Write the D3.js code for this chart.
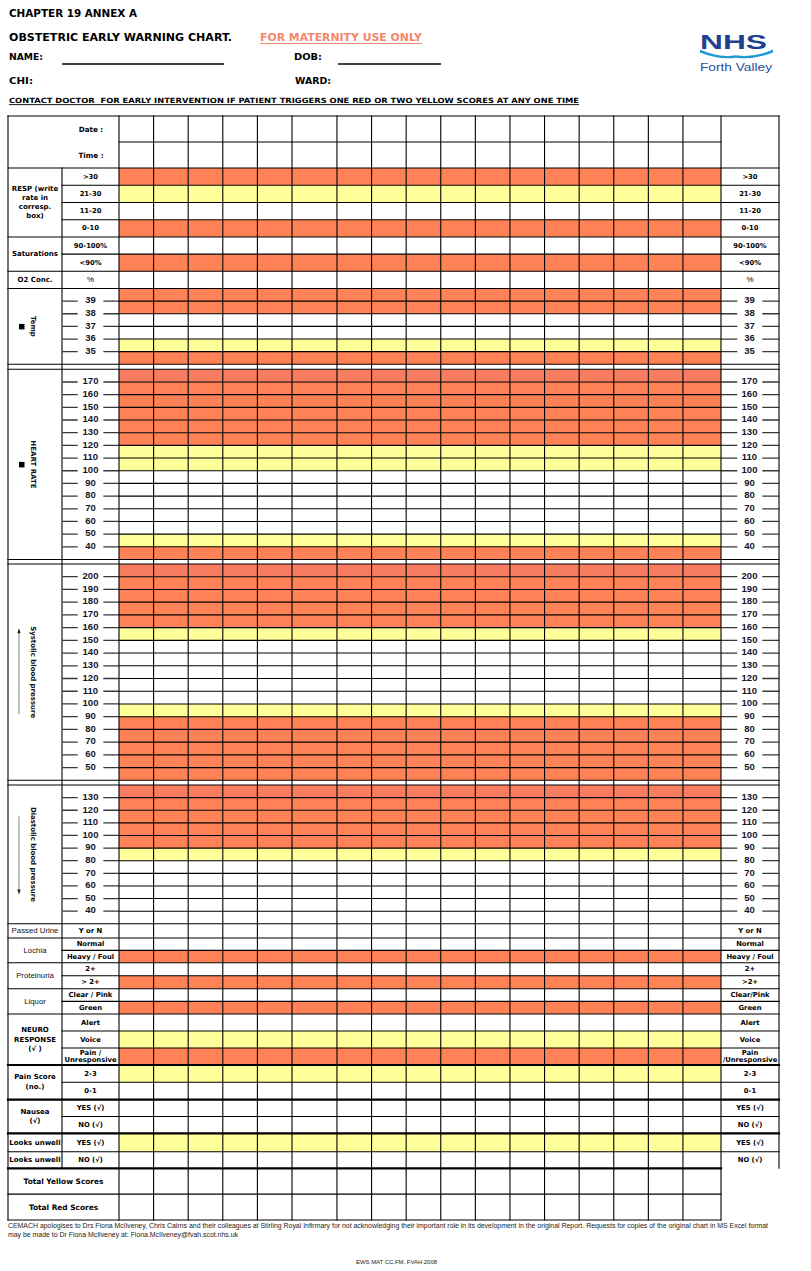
<!DOCTYPE html>
<html><head><meta charset="utf-8">
<script src="https://cdn.jsdelivr.net/npm/d3@7"></script>
<style>body{margin:0;background:#fff} svg{display:block}</style>
</head><body><svg id="c" width="811" height="1271"></svg>
<script>
// ---------------- DATA ----------------
const timeSlots = d3.range(1, 18);            // 17 empty observation columns
const dateTimeLabels = ["Date :", "Time :"];
const respTitle = ["RESP (write", "rate in", "corresp.", "box)"];
const respBands = [">30", "21-30", "11-20", "0-10"];
const respLevels = ["red", "yellow", "none", "red"];
const satBands = ["90-100%", "<90%"];
const satLevels = ["none", "red"];
const o2Bands = ["%"];
const o2Levels = ["none"];
const tempTicks = [39, 38, 37, 36, 35];
const tempRows = [39, 38, 37, 36, 35, 34];
const tempLevels = ["red", "red", "none", "none", "yellow", "red"];
const hrTicks = [170, 160, 150, 140, 130, 120, 110, 100, 90, 80, 70, 60, 50, 40];
const hrRows = [170, 160, 150, 140, 130, 120, 110, 100, 90, 80, 70, 60, 50, 40, 30];
const hrLevels = ["red","red","red","red","red","red","yellow","yellow","none","none","none","none","none","yellow","red"];
const sysTicks = [200, 190, 180, 170, 160, 150, 140, 130, 120, 110, 100, 90, 80, 70, 60, 50];
const sysRows = [200, 190, 180, 170, 160, 150, 140, 130, 120, 110, 100, 90, 80, 70, 60, 50, 40];
const sysLevels = ["red","red","red","red","red","yellow","none","none","none","none","none","yellow","red","red","red","red","red"];
const diaTicks = [130, 120, 110, 100, 90, 80, 70, 60, 50, 40];
const diaRows = [130, 120, 110, 100, 90, 80, 70, 60, 50, 40, 30];
const diaLevels = ["red","red","red","red","red","yellow","none","none","none","none","none"];
const urineLeft = ["Y or N"], urineRight = ["Y or N"], urineLevels = ["none"];
const lochiaLeft = ["Normal", "Heavy / Foul"], lochiaRight = ["Normal", "Heavy / Foul"], lochiaLevels = ["none", "red"];
const protLeft = ["2+", "> 2+"], protRight = ["2+", ">2+"], protLevels = ["none", "red"];
const liquorLeft = ["Clear / Pink", "Green"], liquorRight = ["Clear/Pink", "Green"], liquorLevels = ["none", "red"];
const neuroLeft = ["Alert", "Voice", "Pain /\nUnresponsive"], neuroRight = ["Alert", "Voice", "Pain\n/Unresponsive"], neuroLevels = ["none", "yellow", "red"];
const painLeft = ["2-3", "0-1"], painRight = ["2-3", "0-1"], painLevels = ["yellow", "none"];
const nauseaLeft = ["YES (\u221A)", "NO (\u221A)"], nauseaRight = ["YES (\u221A)", "NO (\u221A)"], nauseaLevels = ["none", "none"];
const unwellYesLeft = ["YES (\u221A)"], unwellYesLevels = ["yellow"];
const unwellNoLeft = ["NO (\u221A)"], unwellNoLevels = ["none"];
const totalLabels = ["Total Yellow Scores", "Total Red Scores"];
const footerLines = [
  "CEMACH apologises to Drs Fiona McIlveney, Chris Cairns and their colleagues at Stirling Royal Infirmary for not acknowledging their important role in its development in the original Report. Requests for copies of the original chart in MS Excel format",
  "may be made to Dr Fiona McIlveney at: Fiona.McIlveney@fvah.scot.nhs.uk"
];
const footerCode = "EWS MAT CC.FM. FVAH 2008";

// ---------------- STYLE / LAYOUT ----------------
const COLORS = {red: "#FF8156", yellow: "#FFFF99", none: "#FFFFFF"};
const FB = "'DejaVu Sans', Verdana, sans-serif";
const FA = "'Liberation Sans', Arial, sans-serif";
const X0 = 8, XC1 = 62, XD0 = 119, XD1 = 721, XR = 779;
const TOP = 116;

const svg = d3.select("#c");
svg.append("rect").attr("width", 811).attr("height", 1271).attr("fill", "#fff");

function label(g, s, x, y, o = {}) {
  const t = g.append("text").attr("x", x).attr("y", y)
    .attr("font-family", o.family || FB).attr("font-size", o.size || 6.8)
    .attr("font-weight", o.weight || "bold").attr("text-anchor", o.anchor || "middle")
    .attr("dominant-baseline", o.baseline || "central").attr("fill", o.fill || "#000")
    .style("white-space", "pre").text(s);
  if (o.len) t.attr("textLength", o.len).attr("lengthAdjust", "spacingAndGlyphs");
  else if (o.maxW) {
    const w = t.node().getComputedTextLength();
    if (w > o.maxW) t.attr("textLength", o.maxW).attr("lengthAdjust", "spacingAndGlyphs");
  }
  return t;
}
function multi(g, s, x, yc, lh, o) {
  const lines = Array.isArray(s) ? s : s.split("\n");
  lines.forEach((ln, i) => label(g, ln, x, yc + (i - (lines.length - 1) / 2) * lh, o));
}

// ---------------- HEADER ----------------
const hd = svg.append("g");
label(hd, "CHAPTER 19 ANNEX A", 9, 17.3, {anchor: "start", baseline: "alphabetic", size: 11, len: 128});
label(hd, "OBSTETRIC EARLY WARNING CHART.", 9, 40.7, {anchor: "start", baseline: "alphabetic", size: 10.5, len: 223});
label(hd, "FOR MATERNITY USE ONLY", 260, 40.7, {anchor: "start", baseline: "alphabetic", size: 10.5, len: 162, fill: "#F4876A"});
hd.append("line").attr("x1", 260).attr("x2", 422).attr("y1", 43.5).attr("y2", 43.5).attr("stroke", "#F4876A").attr("stroke-width", 1);
label(hd, "NAME:", 9, 60.3, {anchor: "start", baseline: "alphabetic", size: 9.5, len: 34});
label(hd, "DOB:", 294, 60.3, {anchor: "start", baseline: "alphabetic", size: 9.5, len: 28});
label(hd, "CHI:", 9, 83.5, {anchor: "start", baseline: "alphabetic", size: 9.5, len: 24});
label(hd, "WARD:", 295, 83.5, {anchor: "start", baseline: "alphabetic", size: 9.5, len: 36});
hd.append("line").attr("x1", 62).attr("x2", 224).attr("y1", 64).attr("y2", 64).attr("stroke", "#000").attr("stroke-width", 1.3);
hd.append("line").attr("x1", 338).attr("x2", 441).attr("y1", 64).attr("y2", 64).attr("stroke", "#000").attr("stroke-width", 1.3);
label(hd, "CONTACT DOCTOR\u00A0 FOR EARLY INTERVENTION IF PATIENT TRIGGERS ONE RED OR TWO YELLOW SCORES AT ANY ONE TIME", 9, 102.7,
  {anchor: "start", baseline: "alphabetic", size: 7.2, len: 570});
hd.append("line").attr("x1", 9).attr("x2", 579).attr("y1", 104.6).attr("y2", 104.6).attr("stroke", "#000").attr("stroke-width", 0.9);
// NHS logo
label(hd, "NHS", 700, 49.3, {anchor: "start", baseline: "alphabetic", size: 19.5, family: FA, fill: "#213F8F", len: 67});
hd.append("path").attr("d", "M700,49.5 Q718,58 736,55.2 Q754,58 773,49.5 L773,52.5 Q754,60 736,57.8 Q718,60 700,52.5 Z").attr("fill", "#1E9BD7");
label(hd, "Forth Valley", 700, 71, {anchor: "start", baseline: "alphabetic", size: 10.2, family: FA, weight: "normal", fill: "#2B4C9A", len: 72});

// ---------------- TABLE LAYOUT ----------------
const groups = [
  {kind: "dt", h: 52, left: dateTimeLabels},
  {kind: "band", h: 69, col1: respTitle, lh: 9.3, left: respBands, right: respBands, levels: respLevels},
  {kind: "band", h: 34.3, col1: ["Saturations"], left: satBands, right: satBands, levels: satLevels},
  {kind: "band", h: 17.2, col1: ["O2 Conc."], left: o2Bands, right: o2Bands, levels: o2Levels, leftWeight: "normal"},
  {kind: "tick", h: 75.8, ticks: tempTicks, rows: tempRows, levels: tempLevels, step: 1, vlabel: "Temp", mark: "square"},
  {kind: "gap", h: 5},
  {kind: "tick", h: 190.2, ticks: hrTicks, rows: hrRows, levels: hrLevels, step: 10, vlabel: "HEART RATE", mark: "square", topTint: true},
  {kind: "gap", h: 4.5},
  {kind: "tick", h: 216.3, ticks: sysTicks, rows: sysRows, levels: sysLevels, step: 10, vlabel: "Systolic blood pressure", mark: "up", vlen: 92, topTint: true},
  {kind: "gap", h: 4.7},
  {kind: "tick", h: 138.8, ticks: diaTicks, rows: diaRows, levels: diaLevels, step: 10, vlabel: "Diastolic blood pressure", mark: "down", vlen: 95, topTint: true},
  {kind: "band", h: 14.2, col1: ["Passed Urine"], col1Normal: true, left: urineLeft, right: urineRight, levels: urineLevels},
  {kind: "band", h: 24.7, col1: ["Lochia"], col1Normal: true, left: lochiaLeft, right: lochiaRight, levels: lochiaLevels},
  {kind: "band", h: 26, col1: ["Proteinuria"], col1Normal: true, left: protLeft, right: protRight, levels: protLevels},
  {kind: "band", h: 25.3, col1: ["Liquor"], col1Normal: true, left: liquorLeft, right: liquorRight, levels: liquorLevels},
  {kind: "band", h: 51, col1: ["NEURO", "RESPONSE", "(\u221A )"], lh: 9.7, left: neuroLeft, right: neuroRight, levels: neuroLevels},
  {kind: "band", h: 34.6, col1: ["Pain Score", "(no.)"], lh: 10, left: painLeft, right: painRight, levels: painLevels, thick: true},
  {kind: "band", h: 33.7, col1: ["Nausea", "(\u221A)"], lh: 9.4, left: nauseaLeft, right: nauseaRight, levels: nauseaLevels, thick: true},
  {kind: "band", h: 18.4, col1: ["Looks unwell"], left: unwellYesLeft, right: unwellYesLeft, levels: unwellYesLevels, thick: true},
  {kind: "band", h: 16.6, col1: ["Looks unwell"], left: unwellNoLeft, right: unwellNoLeft, levels: unwellNoLevels},
  {kind: "total", h: 51.7, left: totalLabels, thick: true}
];
let acc = TOP;
groups.forEach(g => { g.y0 = acc; acc += g.h; g.y1 = acc; });
const BOTTOM = acc;
const RIGHT_END = groups[groups.length - 1].y0;

// column scale (one wider column, as on the printed form)
const colWeights = timeSlots.map((d, i) => i === 5 ? 1.3 : (i === timeSlots.length - 1 ? 1.1 : 1));
const cum = [0]; colWeights.forEach(w => cum.push(cum[cum.length - 1] + w));
const xCol = d3.scaleLinear().domain([0, cum[cum.length - 1]]).range([XD0, XD1]);
const colEdges = cum.map(c => xCol(c));
const cols = timeSlots.map((d, i) => ({x0: colEdges[i], x1: colEdges[i + 1]}));

// build rows
groups.forEach(g => {
  g.rowList = [];
  if (g.kind === "band" || g.kind === "dt" || g.kind === "total") {
    const n = g.left.length;
    const yb = d3.scaleBand().domain(d3.range(n)).range([g.y0, g.y1]);
    g.rowList = d3.range(n).map(i => ({y0: yb(i), y1: yb(i) + yb.bandwidth(), level: g.levels ? g.levels[i] : "none"}));
  } else if (g.kind === "tick") {
    g.scale = d3.scaleLinear().domain([g.rows[0] + g.step, g.rows[g.rows.length - 1]]).range([g.y0, g.y1]);
    g.rowList = g.rows.map((v, i) => ({y0: g.scale(v + g.step), y1: g.scale(v), level: g.levels[i]}));
  } else {
    g.rowList = [{y0: g.y0, y1: g.y1, level: "none"}];
  }
});

// ---------------- CELLS ----------------
const cellG = svg.append("g");
groups.forEach(g => {
  g.rowList.forEach((r, ri) => {
    if (r.level === "none") return;
    const fill = (g.topTint && ri === 0 && r.level === "red") ? "#F87C60" : COLORS[r.level];
    cellG.selectAll(null).data(cols).join("rect")
      .attr("x", c => c.x0).attr("width", c => c.x1 - c.x0)
      .attr("y", r.y0).attr("height", r.y1 - r.y0)
      .attr("fill", fill);
  });
});

// ---------------- GRID LINES ----------------
const lineG = svg.append("g").attr("stroke", "#000").attr("stroke-linecap", "square");
function hline(x1, x2, y, w = 1.1) { lineG.append("line").attr("x1", x1).attr("x2", x2).attr("y1", y).attr("y2", y).attr("stroke-width", w); }
function vline(x, y1, y2, w = 1.1) { lineG.append("line").attr("x1", x).attr("x2", x).attr("y1", y1).attr("y2", y2).attr("stroke-width", w); }

groups.forEach(g => {
  const rightEnd = g.kind === "total" ? XD1 : XR;
  hline(X0, rightEnd, g.y0, g.thick ? 2.2 : 1.1);
  g.rowList.slice(1).forEach(r => {
    if (g.kind === "band") { hline(XC1, XR, r.y0); }
    else if (g.kind === "total") { hline(X0, XD1, r.y0); }
    else { hline(XD0, XD1, r.y0); }
  });
});
hline(X0, XD1, BOTTOM);
vline(X0, TOP, BOTTOM);
vline(XC1, groups[1].y0, RIGHT_END);
colEdges.forEach(x => vline(x, TOP, BOTTOM));
vline(XR, TOP, RIGHT_END);

// ---------------- LABELS ----------------
const labG = svg.append("g");
groups.forEach(g => {
  const yc = (g.y0 + g.y1) / 2;
  if (g.kind === "dt") {
    g.rowList.forEach((r, i) => label(labG, g.left[i], 91, (r.y0 + r.y1) / 2, {size: 7.2}));
  } else if (g.kind === "total") {
    g.rowList.forEach((r, i) => label(labG, g.left[i], 63.5, (r.y0 + r.y1) / 2, {size: 7.4}));
  } else if (g.kind === "band") {
    const o1 = g.col1Normal ? {size: 7.8, weight: "normal", family: FA, fill: "#111", maxW: 50} : {size: 7, maxW: 52};
    multi(labG, g.col1, 35, yc, g.lh || 9.5, o1);
    g.rowList.forEach((r, i) => {
      const c = (r.y0 + r.y1) / 2;
      const ol = g.leftWeight === "normal" ? {size: 8, weight: "normal", family: FA} : {size: 6.8, maxW: 54};
      multi(labG, g.left[i], 90.5, c, 7.6, ol);
      multi(labG, g.right[i], 750, c, 7.6, g.leftWeight === "normal" ? ol : {size: 6.8, maxW: 56});
    });
  } else if (g.kind === "tick") {
    g.ticks.forEach(t => {
      const y = g.scale(t);
      [[63, 77, 90.5], [722, 737, 749.5]].forEach(([a, b, cx]) => {
        const d = {stroke: "#333", w: 1.3};
        lineG.append("line").attr("x1", a).attr("x2", b).attr("y1", y).attr("y2", y)
          .attr("stroke", d.stroke).attr("stroke-width", d.w).attr("stroke-dasharray", "2.6,1.4");
        lineG.append("line").attr("x1", cx + 13.5).attr("x2", cx === 90.5 ? XD0 : XR).attr("y1", y).attr("y2", y)
          .attr("stroke", d.stroke).attr("stroke-width", d.w).attr("stroke-dasharray", "2.6,1.4");
        label(labG, String(t), cx, y - 1.2, {size: 9.5, family: FA, fill: "#15152a"});
      });
    });
    // vertical section label
    const vt = labG.append("text").attr("transform", `translate(33,${yc}) rotate(90)`)
      .attr("text-anchor", "middle").attr("dominant-baseline", "central")
      .attr("font-family", FB).attr("font-weight", "bold").attr("font-size", 7).attr("fill", "#111").text(g.vlabel);
    if (g.vlen) vt.attr("textLength", g.vlen).attr("lengthAdjust", "spacingAndGlyphs");
    if (g.mark === "square") {
      labG.append("rect").attr("x", 19).attr("y", yc - 2.5).attr("width", 5.5).attr("height", 5.5).attr("fill", "#000");
    } else {
      const half = g.mark === "up" ? 42 : 38;
      labG.append("line").attr("x1", 19).attr("x2", 19).attr("y1", yc - half).attr("y2", yc + half)
        .attr("stroke", "#666").attr("stroke-width", 0.8);
      const tip = g.mark === "up" ? yc - half - 2 : yc + half + 2;
      const base = g.mark === "up" ? tip + 5 : tip - 5;
      labG.append("path").attr("d", `M19,${tip} L17.3,${base} L20.7,${base} Z`).attr("fill", "#222");
    }
  }
});

// ---------------- FOOTER ----------------
label(svg, footerLines[0], 8, BOTTOM + 5.5, {anchor: "start", family: FA, weight: "normal", size: 6.6, fill: "#222", len: 760});
label(svg, footerLines[1], 8, BOTTOM + 14, {anchor: "start", family: FA, weight: "normal", size: 6.6, fill: "#222", len: 230});
label(svg, footerCode, 356, 1261.5, {anchor: "start", family: FA, weight: "normal", size: 5.6, fill: "#222", len: 81});
</script></body></html>
